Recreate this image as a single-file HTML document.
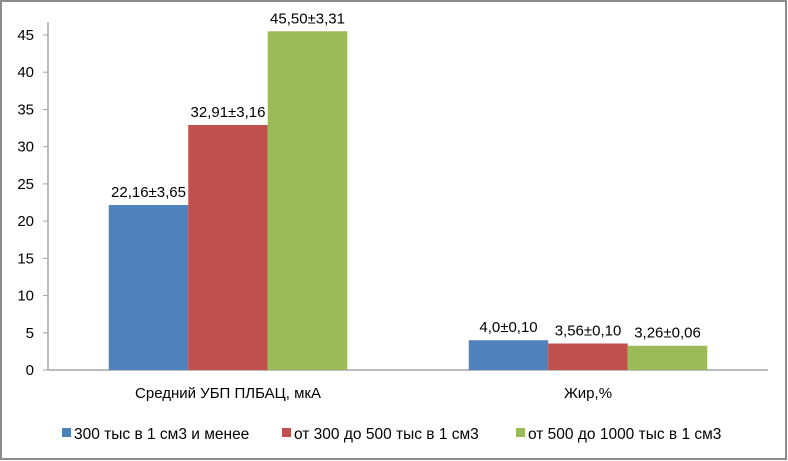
<!DOCTYPE html>
<html><head><meta charset="utf-8"><style>
body{margin:0;background:#fff}
svg{display:block;font-family:"Liberation Sans","DejaVu Sans",sans-serif}
</style></head><body>
<svg id="c" width="788" height="461" xmlns="http://www.w3.org/2000/svg">
<rect x="1" y="1" width="785" height="458" fill="#fff" stroke="#8c8c8c" stroke-width="2"/>
<g id="plot"></g>
</svg>
<script>
const categories=["Средний УБП ПЛБАЦ, мкА","Жир,%"];
const seriesNames=["300 тыс в 1 см3 и менее","от 300 до 500 тыс в 1 см3","от 500  до 1000 тыс в 1 см3"];
const s1=[22.16,4.0];
const s2=[32.91,3.56];
const s3=[45.50,3.26];
const labels1=["22,16±3,65","4,0±0,10"];
const labels2=["32,91±3,16","3,56±0,10"];
const labels3=["45,50±3,31","3,26±0,06"];
const ticks=[0,5,10,15,20,25,30,35,40,45];
const colors=["#4f81bd","#c0504d","#9bbb59"];
const NS="http://www.w3.org/2000/svg";
const g=document.getElementById('plot');
const x0=48,x1=768,yb=370,yt=35,vmax=45;
const y=v=>yb-(v/vmax)*(yb-yt);
const catW=(x1-x0)/categories.length;
const bw=79.5;
function mk(t,a){const e=document.createElementNS(NS,t);for(const k in a)e.setAttribute(k,a[k]);g.appendChild(e);return e;}
let e=mk('line',{x1:x0,y1:22,x2:x0,y2:yb,stroke:'#a6a6a6','stroke-width':1.5});


e=mk('line',{x1:x0,y1:yb,x2:x1,y2:yb,stroke:'#a6a6a6','stroke-width':1.5});


ticks.forEach(t=>{
 let l=mk('line',{x1:x0-5,y1:y(t),x2:x0,y2:y(t),stroke:'#a6a6a6'});
 
 
 let tx=mk('text',{x:34,y:y(t)+5,'text-anchor':'end','font-size':15,fill:'#000'});
 tx.textContent=t;
 
 
});
const series=[s1,s2,s3],labs=[labels1,labels2,labels3];
categories.forEach((c,i)=>{
 const cx=x0+catW*(i+0.5);
 series.forEach((s,j)=>{
  const bx=cx-1.5*bw+j*bw;
  let r=mk('rect',{x:bx,y:y(s[i]),width:bw,height:yb-y(s[i]),fill:colors[j]});
  
  
  let t=mk('text',{x:bx+bw/2,y:y(s[i])-8,'text-anchor':'middle','font-size':15,fill:'#000'});
  t.textContent=labs[j][i];
  
  
 });
 let ct=mk('text',{x:cx,y:398,'text-anchor':'middle','font-size':15,fill:'#000'});
 ct.textContent=c;
 
 
});
const legX=[74,294,528];
seriesNames.forEach((n,j)=>{
 let r=mk('rect',{x:legX[j]-12,y:428,width:9,height:9,fill:colors[j]});
 
 
 let t=mk('text',{x:legX[j],y:439,'font-size':15.5,fill:'#000'});
 t.textContent=n;
 
 
});
</script>
</body></html>
